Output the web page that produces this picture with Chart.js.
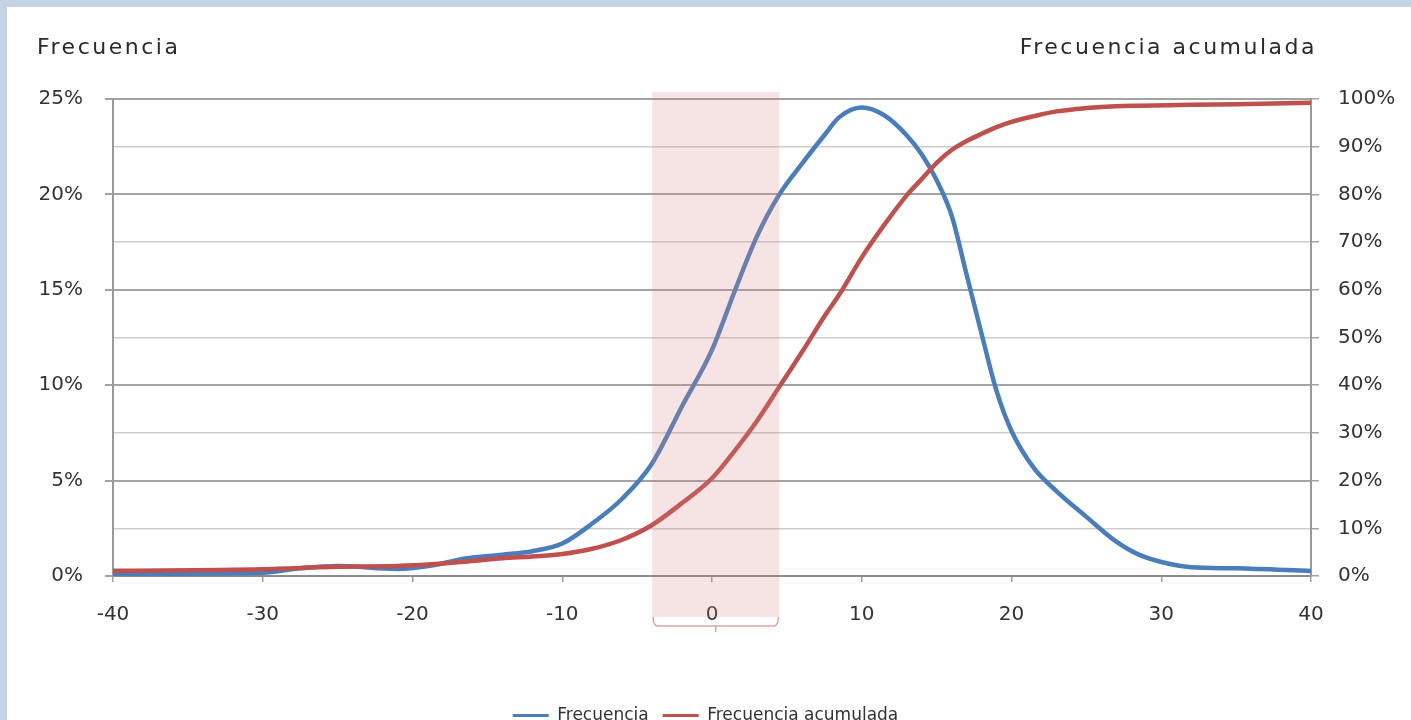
<!DOCTYPE html>
<html>
<head>
<meta charset="utf-8">
<script src="https://cdn.jsdelivr.net/npm/chart.js@4.4.1/dist/chart.umd.min.js"></script>
<style>
    html, body {margin: 0; padding: 0; background: #c4d3e4;}
    #chart {display: block;}
</style>
</head>
<body>
<canvas id="chart" width="1411" height="720"></canvas>
<script>
// valores
const xValues = [-40, -30, -27.5, -25, -21, -18.5, -16.5, -14, -12, -10, -8, -6, -4, -2, 0, 1.5, 3, 4.5, 6, 7.5, 8.5, 10,
    11.5, 13, 14, 15, 16, 17, 18, 19, 20, 21.5, 23, 25, 27, 28.5, 30.5, 32, 35, 40];
const frecuencia = [0.1, 0.17, 0.4, 0.52, 0.37, 0.58, 0.92, 1.12, 1.3, 1.7, 2.75, 4.05, 5.9, 8.9, 11.85, 14.9, 17.8, 20.0,
    21.6, 23.1, 24.05, 24.56, 24.15, 23.1, 22.1, 20.75, 18.9, 15.8, 12.7, 9.7, 7.6, 5.65, 4.45, 3.1, 1.8, 1.12, 0.64, 0.46, 0.4, 0.26];
const acumulada = [1.1, 1.4, 1.7, 1.95, 2.1, 2.5, 3.0, 3.7, 4.1, 4.6, 5.7, 7.6, 10.7, 15.3, 20.5, 26.2, 32.5, 39.7, 46.9,
    54.4, 59, 66.8, 73.6, 79.8, 83.2, 86.6, 89.3, 91.2, 92.7, 94.1, 95.2, 96.4, 97.4, 98.1, 98.5, 98.6, 98.7, 98.8, 98.9, 99.2];
const seriesNames = ['Frecuencia', 'Frecuencia acumulada'];
const axisTitles = ['Frecuencia', 'Frecuencia acumulada'];
const bandRange = [-4, 4.5];

const font = "'DejaVu Sans', sans-serif";
const textColor = '#333333';
const padBottom = -14;

const toPoints = (values) => xValues.map((x, i) => ({x: x, y: values[i]}));

const backgroundPlugin = {
    id: 'background',
    beforeDraw(chart) {
        const ctx = chart.ctx;
        ctx.save();
        ctx.fillStyle = '#c4d3e4';
        ctx.fillRect(0, 0, chart.width, chart.height);
        ctx.fillStyle = '#ffffff';
        ctx.fillRect(7, 7, chart.width - 7, chart.height - 7);
        ctx.restore();
    }
};

const bandPlugin = {
    id: 'band',
    afterDatasetsDraw(chart) {
        const {ctx, chartArea, scales} = chart;
        const x0 = scales.x.getPixelForValue(bandRange[0]);
        const x1 = scales.x.getPixelForValue(bandRange[1]);
        const top = chartArea.top - 7;
        const bottom = chartArea.bottom + 41;
        ctx.save();
        ctx.fillStyle = 'rgba(215, 130, 130, 0.22)';
        ctx.fillRect(x0, top, x1 - x0, bottom - top);
        // llave debajo del eje
        ctx.strokeStyle = '#d9a6a6';
        ctx.lineWidth = 1.5;
        ctx.beginPath();
        ctx.moveTo(x0 + 1, bottom);
        ctx.quadraticCurveTo(x0 + 1, bottom + 9, x0 + 6, bottom + 9);
        ctx.lineTo(x1 - 6, bottom + 9);
        ctx.quadraticCurveTo(x1 - 1, bottom + 9, x1 - 1, bottom);
        const mid = (x0 + x1) / 2;
        ctx.moveTo(mid, bottom + 9);
        ctx.lineTo(mid, bottom + 15);
        ctx.stroke();
        ctx.restore();
    }
};

const titlesPlugin = {
    id: 'axisTitles',
    afterDraw(chart) {
        const ctx = chart.ctx;
        ctx.save();
        ctx.font = "22px " + font;
        ctx.fillStyle = '#2a2a2a';
        ctx.letterSpacing = '2.5px';
        ctx.textBaseline = 'alphabetic';
        ctx.textAlign = 'left';
        ctx.fillText(axisTitles[0], 37, 54);
        ctx.textAlign = 'right';
        ctx.fillText(axisTitles[1], 1317, 54);
        ctx.restore();
    }
};

new Chart(document.getElementById('chart'), {
    type: 'line',
    data: {
        datasets: [
            {
                label: seriesNames[0],
                data: toPoints(frecuencia),
                yAxisID: 'y',
                borderColor: '#4a7ebb',
                backgroundColor: '#4a7ebb',
                borderWidth: 4.5,
                pointRadius: 0,
                cubicInterpolationMode: 'monotone',
                order: 1
            },
            {
                label: seriesNames[1],
                data: toPoints(acumulada),
                yAxisID: 'y2',
                borderColor: '#c0504d',
                backgroundColor: '#c0504d',
                borderWidth: 4.5,
                pointRadius: 0,
                cubicInterpolationMode: 'monotone',
                order: 0
            }
        ]
    },
    options: {
        responsive: false,
        animation: false,
        layout: {padding: {top: 99, left: 0, right: 0, bottom: padBottom}},
        scales: {
            x: {
                type: 'linear',
                min: -40,
                max: 40,
                ticks: {stepSize: 10, color: textColor, font: {family: font, size: 20}, padding: 21},
                grid: {drawOnChartArea: false, tickLength: 6, color: '#a0a0a0', lineWidth: 1.5},
                border: {color: '#8c8c8c', width: 2},
                afterFit(scale) {
                    const legendHeight = scale.chart.legend ? scale.chart.legend.height : 0;
                    scale.height = scale.chart.height - 576 - legendHeight - padBottom;
                }
            },
            y: {
                position: 'left',
                min: 0,
                max: 25,
                ticks: {
                    stepSize: 2.5,
                    autoSkip: false,
                    color: textColor,
                    font: {family: font, size: 20},
                    padding: 22,
                    callback: (v) => (v % 5 === 0 ? v + '%' : '')
                },
                grid: {
                    tickLength: 8,
                    color: (c) => (c.tick.value % 5 === 0 ? '#a3a3a3' : '#cdcdcd'),
                    lineWidth: (c) => (c.tick.value % 5 === 0 ? 2 : 1.5),
                    tickColor: (c) => (c.tick.value % 5 === 0 ? '#a3a3a3' : 'rgba(0,0,0,0)')
                },
                border: {color: '#999999', width: 2},
                afterFit(scale) {
                    scale.width = 113;
                }
            },
            y2: {
                position: 'right',
                min: 0,
                max: 100,
                ticks: {
                    stepSize: 10,
                    color: textColor,
                    font: {family: font, size: 20},
                    padding: 19,
                    callback: (v) => v + '%'
                },
                grid: {drawOnChartArea: false, tickLength: 8, color: '#a3a3a3', lineWidth: 1.5},
                border: {color: '#999999', width: 2},
                afterFit(scale) {
                    scale.width = 100;
                }
            }
        },
        plugins: {
            legend: {
                position: 'bottom',
                labels: {
                    color: textColor,
                    font: {family: font, size: 17},
                    boxWidth: 36,
                    boxHeight: 3,
                    padding: 14,
                    sort: (a, b) => a.datasetIndex - b.datasetIndex,
                    generateLabels(chart) {
                        const items = Chart.defaults.plugins.legend.labels.generateLabels(chart);
                        items.forEach(item => { item.lineWidth = 0; });
                        return items;
                    }
                }
            },
            tooltip: {enabled: false}
        }
    },
    plugins: [backgroundPlugin, bandPlugin, titlesPlugin]
});
</script>
</body>
</html>
